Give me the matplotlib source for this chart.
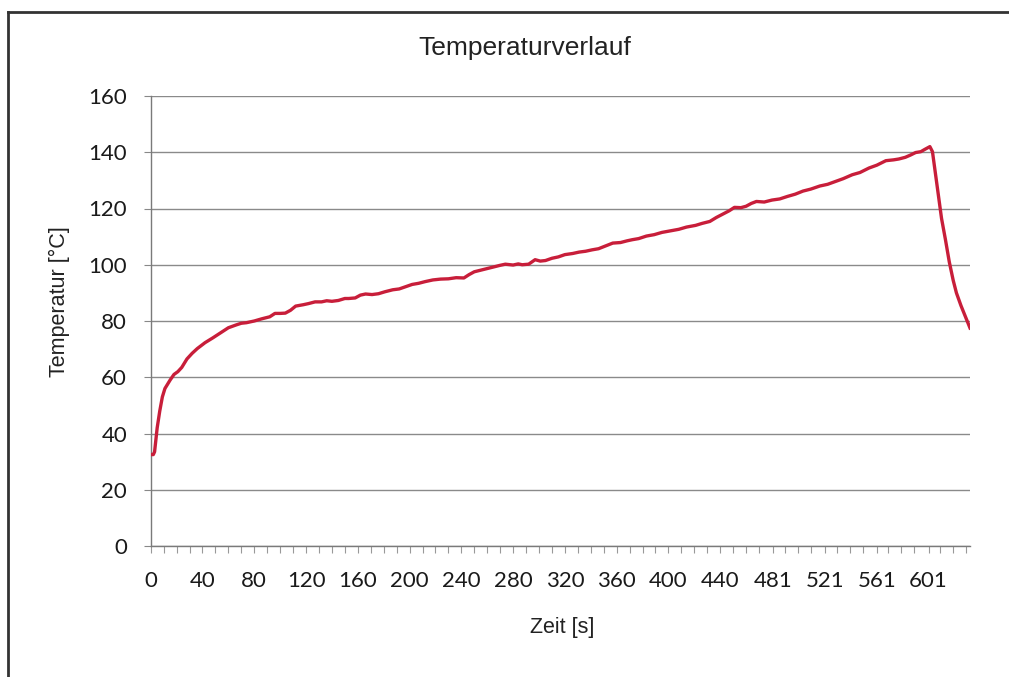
import numpy as np
import matplotlib
matplotlib.use("Agg")
import matplotlib.pyplot as plt
from matplotlib.lines import Line2D

# ---- data ----
zeit = [0, 2, 3, 5, 7, 9, 11, 13, 15, 18, 21, 24, 28, 32, 36, 42, 48, 54, 60, 66,
        70, 74, 80, 86, 92, 96, 100, 104, 108, 112, 118, 122, 127, 132, 136, 140,
        145, 150, 153, 158, 162, 166, 171, 176, 181, 187, 192, 197, 202, 207, 212,
        218, 224, 230, 236, 242, 246, 250, 256, 261, 266, 270, 274, 280, 284, 287,
        292, 297, 301, 305, 310, 315, 320, 326, 331, 336, 341, 346, 351, 357, 363,
        368, 372, 377, 383, 389, 395, 401, 408, 414, 421, 426, 432, 437, 442, 447,
        451, 456, 460, 464, 468, 474, 480, 486, 492, 498, 504, 510, 517, 523, 529,
        535, 542, 548, 555, 561, 568, 574, 578, 583, 587, 591, 595, 598, 602, 604,
        607, 611, 614, 617, 620, 622.5, 626, 629.5, 633]
temperatur = [32.5, 32.5, 33.5, 42, 48, 53, 56, 57.5, 59, 61, 62, 63.5, 66.5, 68.5,
              70.2, 72.3, 74, 75.8, 77.6, 78.6, 79.2, 79.4, 80, 80.8, 81.5, 82.7,
              82.7, 82.8, 83.8, 85.3, 85.8, 86.2, 86.8, 86.8, 87.2, 87.0, 87.3, 88.0,
              88.0, 88.2, 89.2, 89.6, 89.4, 89.7, 90.4, 91.1, 91.4, 92.2, 93.0, 93.4,
              94.0, 94.6, 94.9, 95.0, 95.4, 95.3, 96.5, 97.5, 98.2, 98.8, 99.4, 99.8,
              100.2, 99.9, 100.3, 100.0, 100.2, 101.8, 101.3, 101.5, 102.3, 102.8,
              103.6, 104.0, 104.5, 104.8, 105.3, 105.7, 106.6, 107.7, 107.9, 108.5,
              108.9, 109.3, 110.2, 110.7, 111.5, 112.0, 112.6, 113.4, 114.0, 114.7,
              115.4, 116.8, 118.0, 119.2, 120.4, 120.3, 120.8, 121.8, 122.5, 122.3,
              123.0, 123.4, 124.3, 125.1, 126.2, 126.9, 128.0, 128.6, 129.6, 130.6,
              132.0, 132.8, 134.4, 135.4, 137.0, 137.3, 137.6, 138.2, 139.0, 139.9,
              140.2, 141.0, 142.0, 140.2, 130.0, 116.5, 109.0, 101.0, 94.5, 90.0,
              85.5, 81.5, 77.5]
x_labels = [0, 40, 80, 120, 160, 200, 240, 280, 320, 360, 400, 440, 481, 521, 561, 601]
y_ticks = [0, 20, 40, 60, 80, 100, 120, 140, 160]

title = "Temperaturverlauf"
xlabel = "Zeit [s]"
ylabel = "Temperatur [°C]"

# ---- figure ----
fig = plt.figure(figsize=(10.09, 6.77), dpi=100)
W, H = 1009, 677
ax = fig.add_axes([150.7 / W, 1 - 546 / H, (970 - 150.7) / W, (546 - 96) / H])

ax.plot(zeit, temperatur, color="#C81E3A", lw=2.4, solid_joinstyle="round", zorder=3)

ax.set_xlim(0, 633)
ax.set_ylim(0, 160)
ax.set_yticks(y_ticks)
ax.set_yticklabels([str(v) for v in y_ticks])
ax.set_xticks(x_labels)
ax.set_xticklabels([str(v) for v in x_labels])
minor = [v for v in np.arange(0, 640, 10) if min(abs(v - m) for m in x_labels) > 2]
ax.set_xticks(minor, minor=True)

ax.grid(axis="y", color="#8a8a8a", lw=1.0, zorder=1)
for s in ["top", "right"]:
    ax.spines[s].set_visible(False)
for s in ["left", "bottom"]:
    ax.spines[s].set_color("#7a7a7a")
    ax.spines[s].set_linewidth(1.0)

ax.tick_params(axis="y", length=5, width=0.8, color="#888888", pad=12, labelsize=16, labelcolor="#1a1a1a")
ax.tick_params(axis="x", which="both", direction="out", length=5, width=0.8, color="#999999")
ax.tick_params(axis="x", pad=13, labelsize=16, labelcolor="#1a1a1a")
for lab in ax.get_xticklabels() + ax.get_yticklabels():
    lab.set_family("Lato")

fig.text(525 / W, 1 - 48 / H, title, ha="center", va="center",
         family="Liberation Sans", fontsize=19, color="#222222")
fig.text(562 / W, 1 - 627 / H, xlabel, ha="center", va="center",
         family="Liberation Sans", fontsize=15.5, color="#222222")
fig.text(59 / W, 1 - 302 / H, ylabel, ha="center", va="center", rotation=90,
         family="Liberation Sans", fontsize=15.5, color="#222222")

# outer page frame
fig.add_artist(Line2D([8 / W, 8 / W], [0, 1 - 12 / H], transform=fig.transFigure,
                      color="#333333", lw=2))
fig.add_artist(Line2D([8 / W, 1], [1 - 12 / H, 1 - 12 / H], transform=fig.transFigure,
                      color="#333333", lw=2))

fig.savefig("out.png", dpi=100)
